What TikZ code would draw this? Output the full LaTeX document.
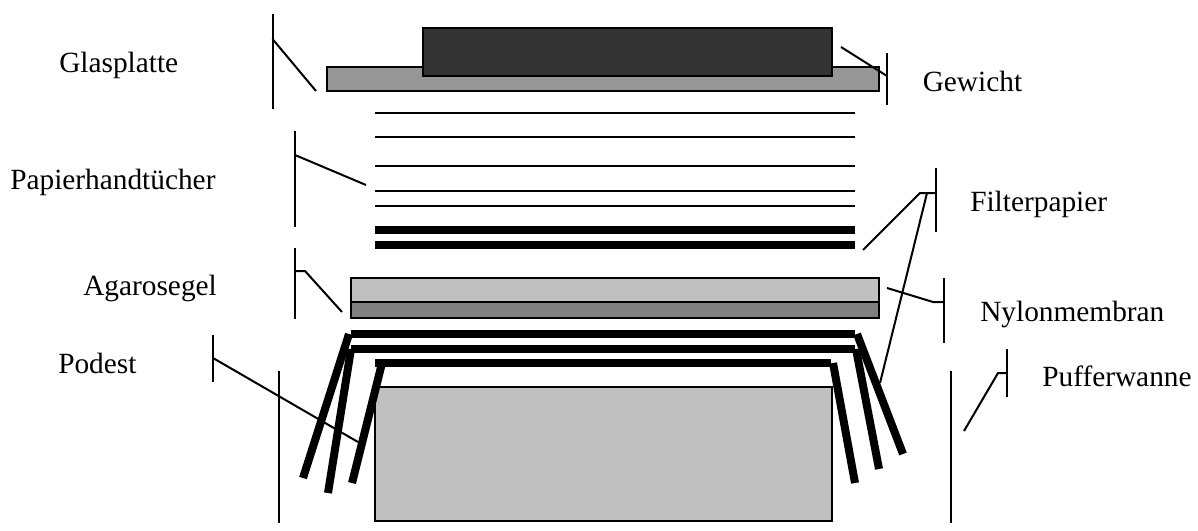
\documentclass[tikz,border=0pt]{standalone}
\usepackage{fontspec}
\setmainfont{Liberation Serif}
\definecolor{gweight}{HTML}{333333}
\definecolor{gglass}{HTML}{969696}
\definecolor{ggel}{HTML}{C0C0C0}
\definecolor{gnylon}{HTML}{808080}
\tikzset{
  plate/.style={draw=black,line width=1.5pt,rectangle,inner sep=0pt,minimum width=0pt,minimum height=0pt},
  label/.style={anchor=base west,inner sep=0pt,font=\fontsize{22}{26}\selectfont},
  leader/.style={line width=1.5pt,line join=miter},
  sheet/.style={line width=1.5pt},
  filter/.style={line width=6pt}
}
\newcommand{\plate}[6]{\path[plate,fill=#2] (#3,#4) rectangle (#5,#6) coordinate[pos=.5] (#1);}
\begin{document}
\begin{tikzpicture}[x=0.75pt,y=-0.75pt]
\useasboundingbox (0,0) rectangle (1198,531);
% plates
\plate{glass}{gglass}{327}{67}{879}{91}
\plate{weight}{gweight}{423}{28}{832}{76}
\plate{gel}{ggel}{351}{278}{879}{302}
\plate{nylon}{gnylon}{351}{302}{879}{317.5}
\plate{podest}{ggel}{375}{387}{832}{521}
% paper towels
\foreach \n/\y in {1/113,2/137,3/166,4/190.5,5/205.5}
  \draw[sheet] (375,\y) coordinate (tL\n) -- (855,\y) coordinate (tR\n);
% filter sheets on the stack
\foreach \n/\y in {1/230,2/245}
  \draw[filter] (375,\y) coordinate (fL\n) -- (855,\y) coordinate (fR\n);
% wicks
\coordinate (wa) at (351,334); \coordinate (wb) at (855,334);
\coordinate (wc) at (351,349); \coordinate (wd) at (855,349);
\coordinate (we) at (375,363); \coordinate (wf) at (831,363);
\draw[filter] (wa) -- (wb);
\draw[filter] (wc) -- (wd);
\draw[filter] (we) -- (wf);
\coordinate (l1a) at (349,334); \coordinate (l1b) at (303,478);
\coordinate (l2a) at (351,349); \coordinate (l2b) at (328,493);
\coordinate (l3a) at (382,363); \coordinate (l3b) at (352,483);
\coordinate (r1a) at (857,334); \coordinate (r1b) at (903,454);
\coordinate (r2a) at (856,349); \coordinate (r2b) at (879,469);
\coordinate (r3a) at (833,363); \coordinate (r3b) at (855,483);
\foreach \a/\b in {l1a/l1b,l2a/l2b,l3a/l3b,r1a/r1b,r2a/r2b,r3a/r3b}
  \draw[filter] (\a) -- (\b);
% tub
\coordinate (tubLt) at (279,371); \coordinate (tubLb) at (279,523);
\coordinate (tubRt) at (951,371); \coordinate (tubRb) at (951,523);
\draw[leader] (tubLt) -- (tubLb);
\draw[leader] (tubRt) -- (tubRb);
% labels
\node[label] (lGlas) at (59,73) {Glasplatte};
\node[label] (lGew) at (922.5,91.5) {Gewicht};
\node[label] (lPap) at (10,189) {Papierhandtücher};
\node[label] (lFil) at (970,211) {Filterpapier};
\node[label] (lAga) at (83,295) {Agarosegel};
\node[label] (lNyl) at (980,321) {Nylonmembran};
\node[label] (lPod) at (58,373) {Podest};
\node[label] (lPuf) at (1042,386.5) {Pufferwanne};
% leaders
\draw[leader] (272.5,14) coordinate (a1) -- (272.5,109) coordinate (a2);
\coordinate (a3) at (272.5,39); \coordinate (a4) at (316,91);
\draw[leader] (a3) -- (a4);
\draw[leader] (887,53) coordinate (b1) -- (887,105) coordinate (b2);
\coordinate (b3) at (841,47); \coordinate (b4) at (887,76);
\draw[leader] (b3) -- (b4);
\draw[leader] (295,131) coordinate (c1) -- (295,227) coordinate (c2);
\coordinate (c3) at (295,155); \coordinate (c4) at (366,185);
\draw[leader] (c3) -- (c4);
\draw[leader] (295,248) coordinate (d1) -- (295,319) coordinate (d2);
\coordinate (d3) at (295,271); \coordinate (d4) at (305,271); \coordinate (d5) at (342,312);
\draw[leader] (d3) -- (d4) -- (d5);
\draw[leader] (213,335) coordinate (e1) -- (213,382) coordinate (e2);
\coordinate (e3) at (213,358); \coordinate (e4) at (358,442);
\draw[leader] (e3) -- (e4);
\draw[leader] (936,168) coordinate (g1) -- (936,232) coordinate (g2);
\coordinate (g3) at (863,250); \coordinate (g4) at (920,193); \coordinate (g5) at (936,193);
\coordinate (g6) at (927,193); \coordinate (g7) at (880,383);
\draw[leader] (g3) -- (g4) -- (g5);
\draw[leader] (g6) -- (g7);
\draw[leader] (944,278) coordinate (h1) -- (944,343) coordinate (h2);
\coordinate (h3) at (887,288); \coordinate (h4) at (933,302); \coordinate (h5) at (944,302);
\draw[leader] (h3) -- (h4) -- (h5);
\draw[leader] (1007,349) coordinate (i1) -- (1007,397) coordinate (i2);
\coordinate (i3) at (964,431); \coordinate (i4) at (998,373); \coordinate (i5) at (1007,373);
\draw[leader] (i3) -- (i4) -- (i5);
\end{tikzpicture}
\end{document}
